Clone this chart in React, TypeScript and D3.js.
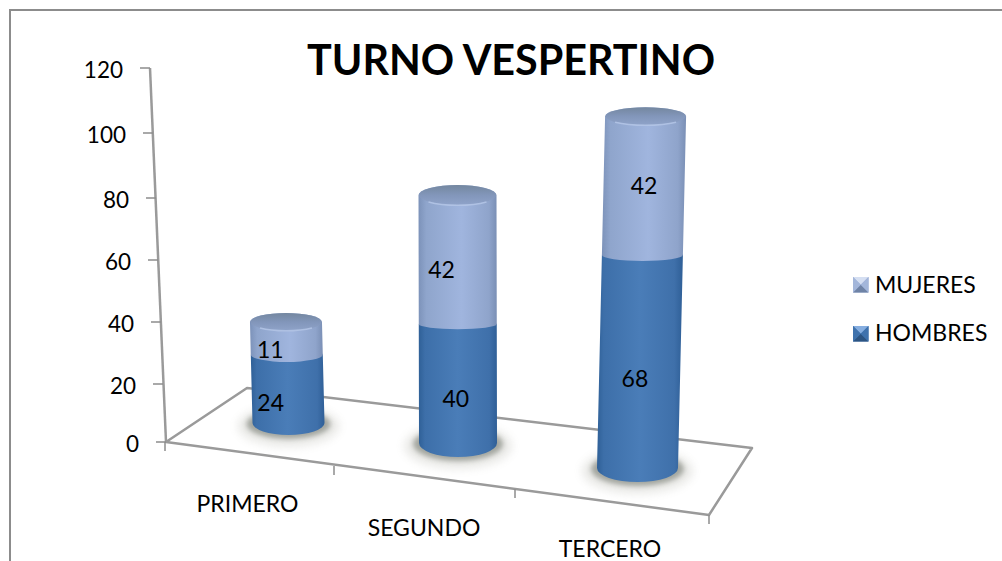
import React from "react";
import * as d3 from "d3";

const categories = ["PRIMERO", "SEGUNDO", "TERCERO"];
const hombres = [24, 40, 68];
const mujeres = [11, 42, 42];
const seriesNames = ["MUJERES", "HOMBRES"];
const yTicks = [0, 20, 40, 60, 80, 100, 120];
const title = "TURNO VESPERTINO";

// perspective layout: each category stands at a different depth
const tickPixelY = [442, 384, 322, 260, 198, 133, 68];
const tickPixelX = [166, 163, 161, 158, 156, 153, 150];
const barBaseY = [423, 443, 468];
const barDepth = [0.967, 0.99, 1.03];
const barBaseX = [288.5, 458, 637.5];
const barLean = [-0.025, -0.002, 0.023];
const barRx = [36, 39, 40.5];
const ryBase = [12, 14, 14];
const ryMid = [7, 5, 6];
const ryTop = [9, 10, 9];
const hombresLabelDx = [-17, -2, -5];
const hombresLabelDy = [22, 21, 23];
const mujeresLabelDx = [-16, -16, 0];
const mujeresLabelDy = [19.5, 18, 7.5];
const categoryX = [247.5, 424, 610];
const categoryY = [512, 536, 557];

const FONT = "Lato, Carlito, 'Open Sans', sans-serif";
const LINE = "#9a9a9a";

const axisY = d3.scaleLinear().domain(yTicks).range(tickPixelY);
const axisX = d3.scaleLinear().domain(yTicks).range(tickPixelX);

const barY = (i: number, v: number) => barBaseY[i] - barDepth[i] * (axisY(0) - axisY(v));
const barX = (i: number, v: number) => barBaseX[i] + barLean[i] * (barBaseY[i] - barY(i, v));

const floor = [[166, 442], [247, 388], [752, 448], [709, 515]];
const floorPath = d3.line()(floor as [number, number][]) + "Z";
const frontTicks = [[165, 442], [334, 466], [515, 489], [709, 515]];

function Cyl({ i }: { i: number }) {
  const total = hombres[i] + mujeres[i];
  const h = hombres[i];
  const rx = barRx[i];
  const seg = (a: number, ra: number, b: number, rb: number) =>
    `M${barX(i, a) - rx},${barY(i, a)} A${rx},${ra} 0 0 0 ${barX(i, a) + rx},${barY(i, a)} L${barX(i, b) + rx},${barY(i, b)} A${rx},${rb} 0 0 0 ${barX(i, b) - rx},${barY(i, b)} Z`;
  const tx = barX(i, total);
  const ty = barY(i, total);
  const rt = ryTop[i];
  return (
    <g>
      <ellipse cx={barBaseX[i]} cy={barBaseY[i] + 3} rx={rx + 15} ry={ryBase[i] + 9} fill="#8a8a7c" opacity={0.18} filter="url(#blurWide)" />
      <ellipse cx={barBaseX[i]} cy={barBaseY[i] + 1} rx={rx + 6} ry={ryBase[i] + 3} fill="#6b6f66" opacity={0.55} filter="url(#blurSmall)" />
      <path d={seg(0, ryBase[i], h, ryMid[i])} fill="url(#darkBody)" />
      <path d={seg(h, ryMid[i], total, rt)} fill="url(#lightBody)" />
      <ellipse cx={tx} cy={ty} rx={rx - 0.5} ry={rt} fill="url(#cap)" />
      <path d={`M${tx - rx + 10},${ty + rt - 3} A${rx},${rt} 0 0 0 ${tx + rx - 10},${ty + rt - 3}`} fill="none" stroke="#b4c6e6" strokeWidth={1.5} opacity={0.85} />
    </g>
  );
}

function Swatch({ x, y, base, light, mid, dark }: { x: number; y: number; base: string; light: string; mid: string; dark: string }) {
  const s = 15.5;
  const c = s / 2;
  const p = (pts: number[][]) => d3.line()(pts as [number, number][]) + "Z";
  return (
    <g transform={`translate(${x},${y})`}>
      <rect width={s} height={s} fill={base} />
      <path d={p([[0, 0], [s, 0], [c, c]])} fill={light} />
      <path d={p([[0, s], [s, s], [c, c]])} fill={dark} />
      <path d={p([[0, 0], [0, s], [c, c]])} fill={mid} />
      <path d={p([[s, 0], [s, s], [c, c]])} fill={mid} />
    </g>
  );
}

export default function App() {
  return (
    <svg width={1002} height={561} style={{ position: "fixed", left: 0, top: 0, background: "#fff" }}>
      <defs>
        <linearGradient id="darkBody" x1="0" x2="1" y1="0" y2="0">
          <stop offset="0" stopColor="#2f6097" />
          <stop offset="0.08" stopColor="#3d6fa9" />
          <stop offset="0.5" stopColor="#4a7db8" />
          <stop offset="0.9" stopColor="#3f70aa" />
          <stop offset="1" stopColor="#2f5f97" />
        </linearGradient>
        <linearGradient id="lightBody" x1="0" x2="1" y1="0" y2="0">
          <stop offset="0" stopColor="#7c92b9" />
          <stop offset="0.1" stopColor="#8fa5cc" />
          <stop offset="0.55" stopColor="#a0b5de" />
          <stop offset="0.9" stopColor="#8fa4cb" />
          <stop offset="1" stopColor="#7a8fb5" />
        </linearGradient>
        <linearGradient id="cap" x1="0" x2="0" y1="0" y2="1">
          <stop offset="0" stopColor="#74879f" />
          <stop offset="0.5" stopColor="#8296ba" />
          <stop offset="1" stopColor="#8fa3c9" />
        </linearGradient>
        <filter id="blurWide" x="-30%" y="-60%" width="160%" height="220%"><feGaussianBlur stdDeviation="4" /></filter>
        <filter id="blurSmall" x="-30%" y="-60%" width="160%" height="220%"><feGaussianBlur stdDeviation="2.5" /></filter>
      </defs>

      <path d="M10,561 V10 H1002" fill="none" stroke="#8c8c8c" strokeWidth={2} />

      <path d={floorPath} fill="#fff" stroke={LINE} strokeWidth={2.5} strokeLinejoin="round" />
      <line x1={axisX(0)} y1={axisY(0)} x2={axisX(120)} y2={axisY(120)} stroke={LINE} strokeWidth={2.5} />
      {yTicks.map((t) => (
        <g key={t}>
          <line x1={axisX(t) - 10} x2={axisX(t)} y1={axisY(t)} y2={axisY(t)} stroke="#8c8c8c" strokeWidth={1.5} />
          <text x={axisX(t) - 27} y={axisY(t) + 9.5} fontFamily={FONT} fontSize={22.5} textAnchor="end" fill="#000">{t}</text>
        </g>
      ))}
      {frontTicks.map(([x, y], i) => (
        <line key={i} x1={x} x2={x} y1={y} y2={y + 9} stroke="#8c8c8c" strokeWidth={1.5} />
      ))}

      {categories.map((_, i) => <Cyl key={i} i={i} />)}

      {categories.map((c, i) => {
        const hm = hombres[i] / 2;
        const mm = hombres[i] + mujeres[i] / 2;
        return (
          <g key={c} fontFamily={FONT} fontSize={23} fill="#000" textAnchor="middle">
            <text x={barX(i, hm) + hombresLabelDx[i]} y={barY(i, hm) + hombresLabelDy[i]}>{hombres[i]}</text>
            <text x={barX(i, mm) + mujeresLabelDx[i]} y={barY(i, mm) + mujeresLabelDy[i]}>{mujeres[i]}</text>
          </g>
        );
      })}

      {categories.map((c, i) => (
        <text key={c} x={categoryX[i]} y={categoryY[i]} fontFamily={FONT} fontSize={23} textAnchor="middle" fill="#000">{c}</text>
      ))}

      <text x={511} y={75} fontFamily={FONT} fontSize={41.3} fontWeight={700} textAnchor="middle" fill="#000">{title}</text>

      <Swatch x={853} y={277} base="#93a8d2" light="#d5dff2" mid="#a3b6da" dark="#6f83a6" />
      <Swatch x={853} y={326} base="#3f70aa" light="#86aee0" mid="#3f72ad" dark="#2c5482" />
      <text x={875} y={293} fontFamily={FONT} fontSize={23} fill="#000">{seriesNames[0]}</text>
      <text x={875} y={341} fontFamily={FONT} fontSize={23} fill="#000">{seriesNames[1]}</text>
    </svg>
  );
}
